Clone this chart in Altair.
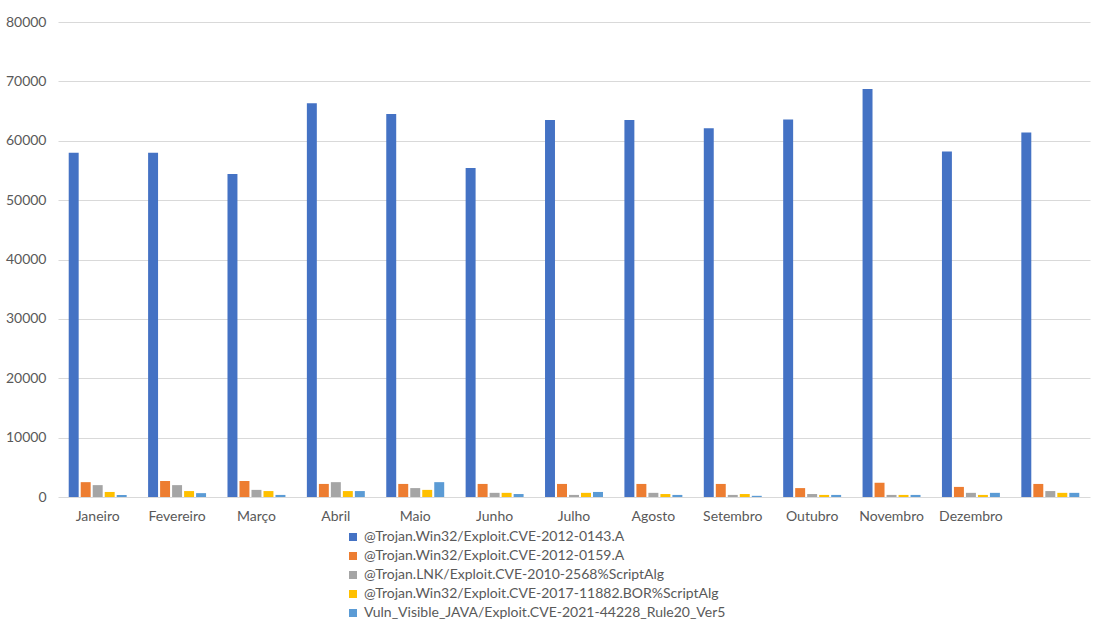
import altair as alt
import pandas as pd

months = ["Janeiro", "Fevereiro", "Março", "Abril", "Maio", "Junho", "Julho",
          "Agosto", "Setembro", "Outubro", "Novembro", "Dezembro", " "]
series = [
    "@Trojan.Win32/Exploit.CVE-2012-0143.A",
    "@Trojan.Win32/Exploit.CVE-2012-0159.A",
    "@Trojan.LNK/Exploit.CVE-2010-2568%ScriptAlg",
    "@Trojan.Win32/Exploit.CVE-2017-11882.BOR%ScriptAlg",
    "Vuln_Visible_JAVA/Exploit.CVE-2021-44228_Rule20_Ver5",
]
s1 = [58000, 58000, 54400, 66300, 64500, 55400, 63500, 63500, 62100, 63600, 68700, 58200, 61400]
s2 = [2500, 2700, 2700, 2200, 2200, 2200, 2200, 2200, 2200, 1500, 2400, 1700, 2200]
s3 = [2000, 2000, 1200, 2500, 1500, 700, 350, 700, 350, 500, 350, 700, 1000]
s4 = [850, 1000, 1000, 1000, 1200, 700, 700, 500, 500, 350, 350, 350, 700]
s5 = [350, 650, 350, 1000, 2500, 500, 850, 350, 200, 350, 350, 700, 700]
colors = ["#4472C4", "#ED7D31", "#A5A5A5", "#FFC000", "#5B9BD5"]

rows = []
for name, vals in zip(series, [s1, s2, s3, s4, s5]):
    for m, v in zip(months, vals):
        rows.append({"Mês": m, "Série": name, "Valor": v})
df = pd.DataFrame(rows)

FONT = "Lato"
TXT = "#595959"

chart = alt.Chart(df).mark_bar().encode(
    x=alt.X("Mês:N", sort=months, title=None,
            scale=alt.Scale(paddingInner=0.27, paddingOuter=0.135),
            axis=alt.Axis(labelAngle=0, ticks=False, domain=False, labelPadding=12,
                          labelFontSize=14, labelColor=TXT, labelFont=FONT)),
    xOffset=alt.XOffset("Série:N", sort=series,
                        scale=alt.Scale(paddingInner=0.17, paddingOuter=0)),
    y=alt.Y("Valor:Q", title=None,
            scale=alt.Scale(domain=[0, 80000], nice=False),
            axis=alt.Axis(values=list(range(0, 80001, 10000)), format="d",
                          ticks=False, domain=False,
                          labelPadding=12, labelFontSize=14, labelColor=TXT, labelFont=FONT,
                          gridColor="#D9D9D9", gridWidth=1)),
    color=alt.Color("Série:N", sort=series,
                    scale=alt.Scale(domain=series, range=colors),
                    legend=alt.Legend(title=None, orient="none", legendX=288, legendY=508,
                                      direction="vertical", symbolType="square",
                                      symbolSize=64, symbolStrokeWidth=0, labelLimit=0,
                                      labelFontSize=14, labelColor=TXT, labelFont=FONT,
                                      rowPadding=5, labelOffset=4)),
).properties(
    width=1032, height=475,
    padding={"left": 58, "top": 22, "right": 13, "bottom": 136},
    autosize=alt.AutoSizeParams(type="none"),
).configure_view(stroke=None)

chart.save("out.html", embed_options={"renderer": "svg", "actions": False})
